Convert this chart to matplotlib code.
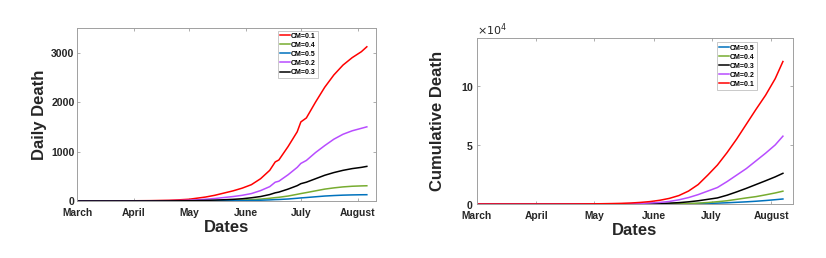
import numpy as np
import matplotlib
matplotlib.use("Agg")
import matplotlib.pyplot as plt
from matplotlib.ticker import ScalarFormatter

# days counted from March 1
MONTH_DAYS = [0, 31, 61, 92, 122, 153]
MONTH_NAMES = ["March", "April", "May", "June", "July", "August"]

# daily deaths
daily_days = [0, 10, 20, 30, 40, 50, 55, 61, 65, 70, 75, 80, 85, 90, 95, 100,
              105, 108, 110, 115, 120, 122, 125, 130, 135, 140, 145, 150, 155, 158]
daily_cm01 = [0, 1, 2, 4, 7, 14, 22, 35, 55, 80, 115, 160, 205, 260, 330, 450,
              620, 790, 830, 1100, 1400, 1600, 1680, 2000, 2300, 2550, 2750, 2900, 3020, 3120]
daily_cm02 = [0, 0.5, 1, 2, 3, 6, 9, 15, 22, 35, 50, 70, 90, 115, 150, 210,
              290, 380, 400, 530, 680, 760, 820, 980, 1120, 1250, 1350, 1420, 1470, 1500]
daily_cm03 = [0, 0.2, 0.5, 1, 1.5, 2.5, 3.5, 5, 8, 12, 18, 25, 33, 45, 65, 90,
              130, 165, 180, 240, 310, 350, 380, 450, 520, 575, 620, 655, 680, 700]
daily_cm04 = [0, 0.1, 0.2, 0.4, 0.6, 1, 1.5, 2, 3, 5, 7, 10, 14, 18, 27, 38,
              55, 68, 75, 100, 135, 150, 170, 205, 240, 265, 285, 298, 305, 308]
daily_cm05 = [0, 0, 0.1, 0.2, 0.3, 0.5, 0.7, 1, 1.5, 2, 3, 4, 5.5, 7, 10, 15,
              22, 28, 30, 40, 55, 62, 70, 85, 100, 110, 118, 123, 126, 127]

# cumulative deaths (x 1e4)
cum_days = [0, 10, 20, 30, 40, 50, 55, 61, 65, 70, 75, 80, 85, 90, 95, 100,
            105, 110, 115, 120, 125, 130, 135, 140, 145, 150, 155, 159]
cum_cm01 = [0, 0, 0, 0.001, 0.003, 0.008, 0.013, 0.02, 0.03, 0.043, 0.06, 0.09, 0.14, 0.21,
            0.32, 0.48, 0.72, 1.1, 1.65, 2.45, 3.3, 4.35, 5.5, 6.75, 8.0, 9.2, 10.6, 12.05]
cum_cm02 = [0, 0, 0, 0, 0.001, 0.003, 0.005, 0.008, 0.012, 0.018, 0.027, 0.04, 0.06, 0.09,
            0.14, 0.22, 0.36, 0.55, 0.8, 1.1, 1.4, 1.9, 2.45, 3.0, 3.65, 4.3, 5.0, 5.74]
cum_cm03 = [0, 0, 0, 0, 0, 0.001, 0.002, 0.004, 0.006, 0.008, 0.012, 0.017, 0.025, 0.035,
            0.05, 0.08, 0.12, 0.19, 0.28, 0.4, 0.52, 0.75, 1.03, 1.33, 1.65, 1.97, 2.3, 2.6]
cum_cm04 = [0, 0, 0, 0, 0, 0, 0.001, 0.002, 0.003, 0.004, 0.006, 0.008, 0.011, 0.015,
            0.02, 0.025, 0.035, 0.05, 0.08, 0.13, 0.2, 0.28, 0.4, 0.52, 0.63, 0.78, 0.94, 1.09]
cum_cm05 = [0, 0, 0, 0, 0, 0, 0, 0.001, 0.002, 0.003, 0.004, 0.005, 0.007, 0.009,
            0.011, 0.012, 0.018, 0.025, 0.04, 0.06, 0.08, 0.11, 0.15, 0.19, 0.24, 0.3, 0.37, 0.43]

COLORS = {"0.1": "#ff0000", "0.2": "#b84dff", "0.3": "#000000",
          "0.4": "#77ac30", "0.5": "#0072bd"}

FONT = ["Liberation Sans", "DejaVu Sans"]
AX_GRAY = "#a0a0a0"
TXT = "#262626"


def style_axes(ax, xmax, ymax):
    ax.set_xlim(0, xmax)
    ax.set_ylim(0, ymax)
    ax.set_xticks(MONTH_DAYS)
    ax.set_xticklabels(MONTH_NAMES, family=FONT, fontweight="bold", fontsize=7.4, color=TXT)
    ax.tick_params(direction="in", top=True, right=True, length=2.5, width=0.6,
                   color=AX_GRAY)
    ax.tick_params(axis="x", pad=5)
    ax.tick_params(axis="y", pad=2)
    for lbl in ax.get_yticklabels():
        lbl.set_family(FONT)
        lbl.set_fontweight("bold")
        lbl.set_fontsize(7.6)
        lbl.set_color(TXT)
    for sp in ax.spines.values():
        sp.set_color(AX_GRAY)
        sp.set_linewidth(0.7)
    ax.set_xlabel("Dates", family=FONT, fontweight="bold", fontsize=12, color=TXT, labelpad=1.5)


def add_legend(ax, x0, top):
    leg = ax.legend(loc="upper left", bbox_to_anchor=(x0, top), frameon=True, fancybox=False,
                    handlelength=1.4, handletextpad=0.2, borderpad=0.3, labelspacing=0.3,
                    borderaxespad=0, prop={"family": FONT, "weight": "bold", "size": 5})
    leg.get_frame().set_edgecolor("#b0b0b0")
    leg.get_frame().set_linewidth(0.6)


fig = plt.figure(figsize=(8.26, 2.58), dpi=100)

# left: daily deaths
ax1 = fig.add_axes([0.0936, 0.221, 0.3616, 0.6705])
d = np.array(daily_days)
ax1.plot(d, daily_cm01, color=COLORS["0.1"], lw=1.1, label="CM=0.1")
ax1.plot(d, daily_cm04, color=COLORS["0.4"], lw=1.1, label="CM=0.4")
ax1.plot(d, daily_cm05, color=COLORS["0.5"], lw=1.1, label="CM=0.5")
ax1.plot(d, daily_cm02, color=COLORS["0.2"], lw=1.1, label="CM=0.2")
ax1.plot(d, daily_cm03, color=COLORS["0.3"], lw=1.1, label="CM=0.3")
ax1.set_yticks([0, 1000, 2000, 3000])
style_axes(ax1, 163, 3500)
ax1.set_ylabel("Daily Death", family=FONT, fontweight="bold", fontsize=12, color=TXT, labelpad=3)
add_legend(ax1, 0.672, 0.985)

# right: cumulative deaths
ax2 = fig.add_axes([0.577, 0.209, 0.3825, 0.642])
c = np.array(cum_days)
ax2.plot(c, np.array(cum_cm05) * 1e4, color=COLORS["0.5"], lw=1.1, label="CM=0.5")
ax2.plot(c, np.array(cum_cm04) * 1e4, color=COLORS["0.4"], lw=1.1, label="CM=0.4")
ax2.plot(c, np.array(cum_cm03) * 1e4, color=COLORS["0.3"], lw=1.1, label="CM=0.3")
ax2.plot(c, np.array(cum_cm02) * 1e4, color=COLORS["0.2"], lw=1.1, label="CM=0.2")
ax2.plot(c, np.array(cum_cm01) * 1e4, color=COLORS["0.1"], lw=1.1, label="CM=0.1")
fmt = ScalarFormatter(useMathText=True)
fmt.set_powerlimits((4, 4))
ax2.yaxis.set_major_formatter(fmt)
ax2.set_yticks([0, 50000, 100000])
style_axes(ax2, 164, 140000)
ax2.yaxis.get_offset_text().set_fontsize(8)
ax2.yaxis.get_offset_text().set_color(TXT)
ax2.set_ylabel("Cumulative Death", family=FONT, fontweight="bold", fontsize=12, color=TXT, labelpad=11)
add_legend(ax2, 0.76, 0.976)

fig.savefig("out.png", dpi=100, facecolor="white")
